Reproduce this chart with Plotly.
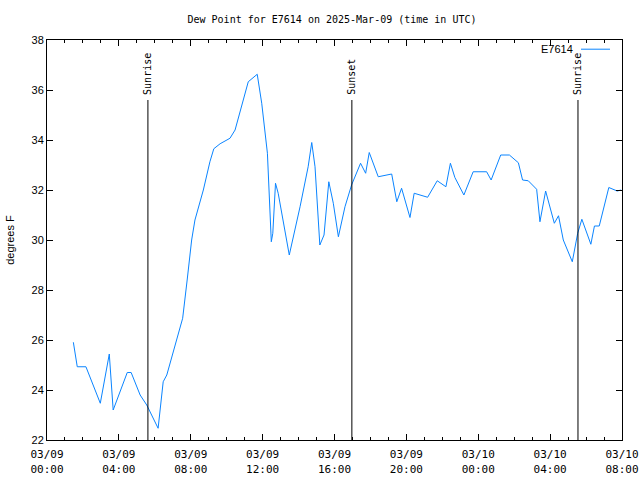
import plotly.graph_objects as go

times = [
    "2025-03-09 01:28", "2025-03-09 01:41", "2025-03-09 02:10", "2025-03-09 02:58",
    "2025-03-09 03:28", "2025-03-09 03:41", "2025-03-09 04:28", "2025-03-09 04:41",
    "2025-03-09 05:11", "2025-03-09 05:33", "2025-03-09 06:11", "2025-03-09 06:28",
    "2025-03-09 06:40", "2025-03-09 07:13", "2025-03-09 07:33", "2025-03-09 07:48",
    "2025-03-09 08:03", "2025-03-09 08:14", "2025-03-09 08:42", "2025-03-09 09:04",
    "2025-03-09 09:17", "2025-03-09 09:38", "2025-03-09 10:11", "2025-03-09 10:28",
    "2025-03-09 10:44", "2025-03-09 11:12", "2025-03-09 11:42", "2025-03-09 11:57",
    "2025-03-09 12:16", "2025-03-09 12:29", "2025-03-09 12:34", "2025-03-09 12:43",
    "2025-03-09 12:52", "2025-03-09 13:29", "2025-03-09 14:05", "2025-03-09 14:32",
    "2025-03-09 14:44", "2025-03-09 14:55", "2025-03-09 15:11", "2025-03-09 15:25",
    "2025-03-09 15:41", "2025-03-09 15:56", "2025-03-09 16:13", "2025-03-09 16:35",
    "2025-03-09 16:57", "2025-03-09 17:27", "2025-03-09 17:44", "2025-03-09 17:56",
    "2025-03-09 18:26", "2025-03-09 19:11", "2025-03-09 19:28", "2025-03-09 19:44",
    "2025-03-09 20:12", "2025-03-09 20:26", "2025-03-09 21:11", "2025-03-09 21:43",
    "2025-03-09 22:12", "2025-03-09 22:27", "2025-03-09 22:42", "2025-03-09 23:12",
    "2025-03-09 23:43", "2025-03-10 00:28", "2025-03-10 00:43", "2025-03-10 01:15",
    "2025-03-10 01:44", "2025-03-10 02:14", "2025-03-10 02:28", "2025-03-10 02:47",
    "2025-03-10 03:15", "2025-03-10 03:26", "2025-03-10 03:45", "2025-03-10 04:14",
    "2025-03-10 04:28", "2025-03-10 04:44", "2025-03-10 05:14", "2025-03-10 05:32",
    "2025-03-10 05:46", "2025-03-10 06:16", "2025-03-10 06:28", "2025-03-10 06:44",
    "2025-03-10 07:16", "2025-03-10 07:44", "2025-03-10 07:57",
]
dewpoint = [
    25.91, 24.93, 24.93, 23.47,
    25.44, 23.2, 24.7, 24.7,
    23.8, 23.4, 22.47, 24.33,
    24.6, 26.0, 26.87, 28.4,
    30.0, 30.8, 32.0, 33.13,
    33.65, 33.85, 34.07, 34.4,
    35.07, 36.33, 36.63, 35.47,
    33.47, 29.93, 30.27, 32.27,
    31.87, 29.4, 31.33, 32.93,
    33.9, 32.93, 29.8, 30.2,
    32.33, 31.47, 30.13, 31.33,
    32.2, 33.07, 32.67, 33.5,
    32.53, 32.64, 31.53, 32.07,
    30.9, 31.87, 31.71, 32.37,
    32.13, 33.07, 32.5, 31.8,
    32.73, 32.73, 32.4, 33.4,
    33.4, 33.09, 32.4, 32.37,
    32.03, 30.73, 31.96, 30.67,
    30.97, 30.0, 29.13, 30.27,
    30.83, 29.83, 30.56, 30.56,
    32.1, 31.96, 32.0,
]
sun_events = ["Sunrise", "Sunset", "Sunrise"]
sun_times = ["2025-03-09 05:37", "2025-03-09 16:58", "2025-03-10 05:33"]

tick_vals = ["2025-03-09 00:00", "2025-03-09 04:00", "2025-03-09 08:00", "2025-03-09 12:00",
             "2025-03-09 16:00", "2025-03-09 20:00", "2025-03-10 00:00", "2025-03-10 04:00",
             "2025-03-10 08:00"]
tick_text = ["03/09<br>00:00", "03/09<br>04:00", "03/09<br>08:00", "03/09<br>12:00",
             "03/09<br>16:00", "03/09<br>20:00", "03/10<br>00:00", "03/10<br>04:00",
             "03/10<br>08:00"]

MONO = "DejaVu Sans Mono"
SANS = "Liberation Sans"
LINE_COLOR = "#0a84ff"

fig = go.Figure()
fig.add_trace(go.Scatter(x=times, y=dewpoint, mode="lines", name="E7614",
                         line=dict(color=LINE_COLOR, width=1), showlegend=False))

for name, t in zip(sun_events, sun_times):
    fig.add_shape(type="line", xref="x", yref="paper", x0=t, x1=t, y0=0, y1=0.85,
                  line=dict(color="black", width=1))
    fig.add_annotation(x=t, xref="x", y=0.8575, yref="paper", text=name, textangle=-90,
                       showarrow=False, xanchor="center", yanchor="bottom",
                       font=dict(family=MONO, size=10, color="black"))

# legend-like key (text right of plot top, sample line to its right)
fig.add_annotation(xref="paper", yref="paper", x=(575 - 47) / 575, y=0.977, text="E7614",
                   showarrow=False, xanchor="right", yanchor="middle",
                   font=dict(family=SANS, size=11, color="black"))
fig.add_shape(type="line", xref="paper", yref="paper", x0=(581 - 47) / 575, x1=(610 - 47) / 575,
              y0=0.977, y1=0.977, line=dict(color=LINE_COLOR, width=1))

fig.update_layout(
    width=640, height=480,
    margin=dict(l=47, r=18, t=40, b=40, autoexpand=False),
    paper_bgcolor="white", plot_bgcolor="white",
    title=dict(text="Dew Point for E7614 on 2025-Mar-09 (time in UTC)", x=332 / 640, xanchor="center",
               y=1 - 19 / 480, yanchor="middle", yref="container",
               font=dict(family=MONO, size=10, color="black")),
    xaxis=dict(range=["2025-03-09 00:00", "2025-03-10 08:00"], tickvals=tick_vals, ticktext=tick_text,
               ticks="inside", ticklen=6, tickcolor="black", showline=True, linecolor="black",
               linewidth=1, mirror="ticks", showgrid=False, zeroline=False, automargin=False,
               ticklabelstandoff=4,
               tickfont=dict(family=MONO, size=11, color="black"),
               minor=dict(dtick=3600000, ticks="inside", ticklen=3, tickcolor="black", showgrid=False)),
    yaxis=dict(range=[22, 38], dtick=2, tick0=22, ticks="inside", ticklen=6, tickcolor="black",
               showline=True, linecolor="black", linewidth=1, mirror="ticks", showgrid=False,
               zeroline=False, automargin=False, tickfont=dict(family=SANS, size=11, color="black"),
               title=dict(text="degrees F", font=dict(family=SANS, size=11, color="black"), standoff=14)),
)

fig.write_html("out.html")
